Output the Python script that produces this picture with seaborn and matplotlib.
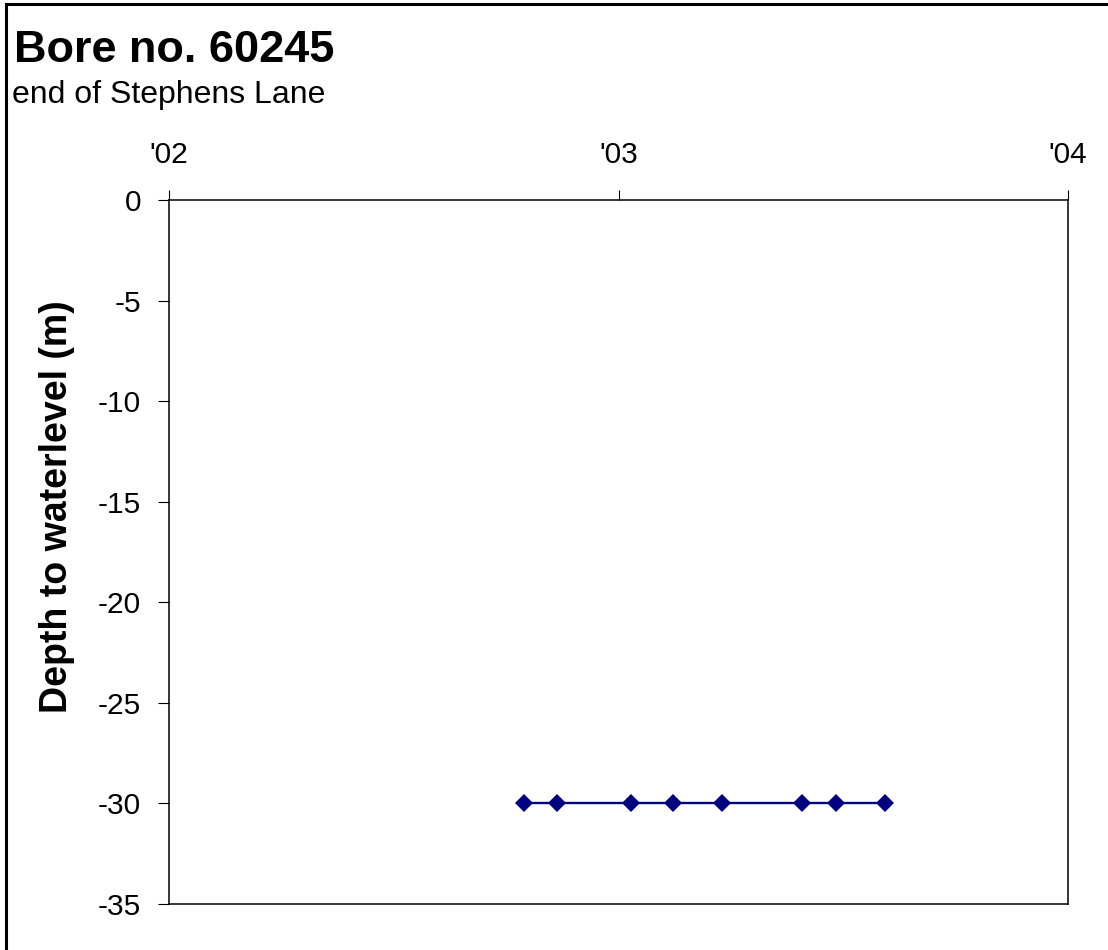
import matplotlib
matplotlib.use("Agg")
import matplotlib.pyplot as plt
import matplotlib.dates as mdates
from matplotlib.patches import Rectangle
import seaborn as sns
import pandas as pd

# ---- data ----
dates = ["2002-10-16", "2002-11-12", "2003-01-11", "2003-02-14",
         "2003-03-26", "2003-05-30", "2003-06-27", "2003-08-05"]
depth = [-30, -30, -30, -30, -30, -30, -30, -30]
x_limits = ["2002-01-01", "2004-01-01"]
y_ticks = [0, -5, -10, -15, -20, -25, -30, -35]
title = "Bore no. 60245"
subtitle = "end of Stephens Lane"
ylabel = "Depth to waterlevel (m)"

df = pd.DataFrame({"date": pd.to_datetime(dates), "depth": depth})

sns.set_style("white")
plt.rcParams["font.family"] = ["Liberation Sans", "DejaVu Sans"]
plt.rcParams["text.color"] = "black"
plt.rcParams["axes.labelcolor"] = "black"

fig = plt.figure(figsize=(11.08, 9.5), dpi=100)
ax = fig.add_axes([169 / 1108, 1 - 904 / 950, (1068 - 169) / 1108, (904 - 200) / 950])

sns.lineplot(data=df, x="date", y="depth", ax=ax, color="#000080",
             marker="D", markersize=9, markeredgewidth=0, linewidth=1.7)

ax.set_xlim(pd.to_datetime(x_limits[0]), pd.to_datetime(x_limits[1]))
ax.set_ylim(-35, 0)
ax.set_yticks(y_ticks)
ax.set_yticklabels([str(v) for v in y_ticks])
ax.xaxis.set_major_locator(mdates.YearLocator())
ax.xaxis.set_major_formatter(mdates.DateFormatter("'%y"))
ax.xaxis.tick_top()
ax.set_xlabel("")
ax.tick_params(axis="x", direction="out", length=7, width=0.8, pad=15,
               labelsize=21.5, colors="black", top=True, bottom=False)
ax.tick_params(axis="y", direction="out", length=8, width=0.8, pad=12,
               labelsize=21.5, colors="black", left=True)
for s in ax.spines.values():
    s.set_visible(True)
    s.set_color("black")
    s.set_linewidth(1.1)

ax.set_ylabel(ylabel, fontsize=27, fontweight="bold", color="black")
ax.yaxis.set_label_coords(-0.105, 0.564)

fig.text(14 / 1108, 1 - 62 / 950, title, fontsize=32.5, fontweight="bold",
         ha="left", va="baseline", color="black")
fig.text(12 / 1108, 1 - 103 / 950, subtitle, fontsize=23,
         ha="left", va="baseline", color="black")

fig.add_artist(Rectangle((6 / 1108, -0.5), 2.0, 1.5 - 4 / 950,
                         transform=fig.transFigure, fill=False,
                         edgecolor="black", linewidth=2.2))

fig.savefig("out.png", dpi=100)
